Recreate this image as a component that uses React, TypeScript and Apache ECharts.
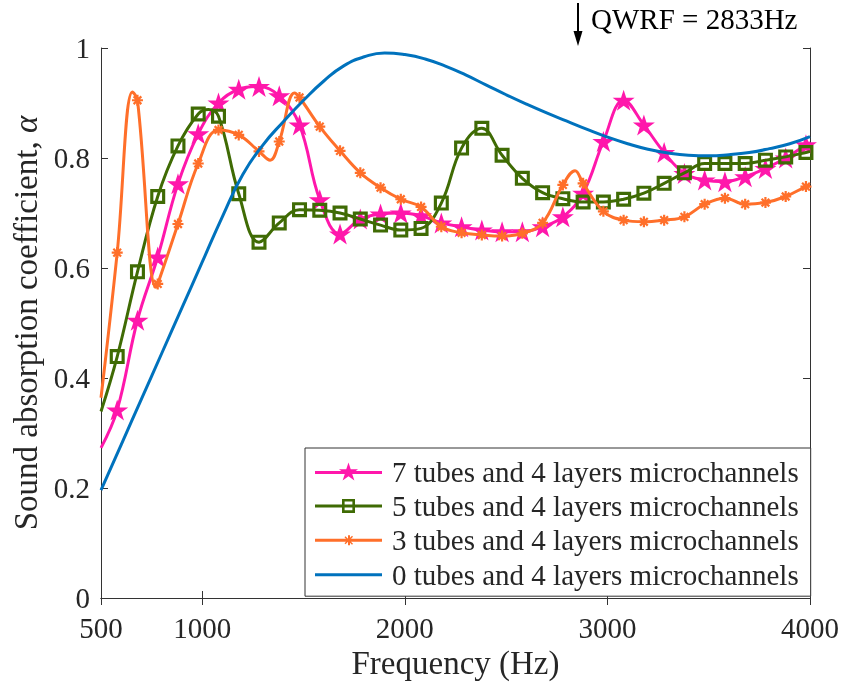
import React, { useEffect, useRef } from 'react';
import * as echarts from 'echarts';

// ---------- data ----------
const xTicks = [500, 1000, 2000, 3000, 4000];
const markerFreqs = [580, 680, 780, 880, 980, 1080, 1180, 1280, 1380, 1480, 1580, 1680, 1780, 1880, 1980, 2080, 2180, 2280, 2380, 2480, 2580, 2680, 2780, 2880, 2980, 3080, 3180, 3280, 3380, 3480, 3580, 3680, 3780, 3880, 3980];

// 7 tubes and 4 layers microchannels
const tubes7Vals = [0.342, 0.505, 0.62, 0.753, 0.844, 0.9, 0.925, 0.93, 0.913, 0.86, 0.724, 0.662, 0.689, 0.698, 0.7, 0.695, 0.682, 0.675, 0.669, 0.666, 0.666, 0.675, 0.693, 0.736, 0.83, 0.905, 0.86, 0.81, 0.772, 0.76, 0.757, 0.766, 0.781, 0.8, 0.824];
const tubes7ExtraFreqs = [500, 4000];
const tubes7ExtraVals = [0.273, 0.828];

// 5 tubes and 4 layers microchannels
const tubes5Vals = [0.439, 0.593, 0.73, 0.822, 0.88, 0.876, 0.735, 0.647, 0.682, 0.706, 0.705, 0.7, 0.689, 0.678, 0.669, 0.672, 0.718, 0.818, 0.854, 0.805, 0.763, 0.737, 0.726, 0.72, 0.72, 0.725, 0.736, 0.754, 0.773, 0.79, 0.79, 0.79, 0.796, 0.802, 0.81];
const tubes5ExtraFreqs = [500, 1030, 4000];
const tubes5ExtraVals = [0.339, 0.888, 0.812];

// 3 tubes and 4 layers microchannels
const tubes3Vals = [0.628, 0.905, 0.571, 0.68, 0.79, 0.851, 0.842, 0.812, 0.83, 0.91, 0.857, 0.813, 0.773, 0.746, 0.725, 0.711, 0.675, 0.664, 0.66, 0.658, 0.663, 0.682, 0.751, 0.754, 0.703, 0.687, 0.684, 0.687, 0.693, 0.716, 0.727, 0.716, 0.719, 0.73, 0.748];
const tubes3ExtraFreqs = [500, 655, 770, 1335, 1455, 2840, 4000];
const tubes3ExtraVals = [0.364, 0.92, 0.565, 0.796, 0.918, 0.777, 0.75];

// 0 tubes and 4 layers microchannels (no markers)
const tubes0Freqs = [500, 600, 700, 800, 900, 1000, 1100, 1200, 1300, 1400, 1500, 1600, 1700, 1800, 1900, 2000, 2100, 2200, 2300, 2400, 2500, 2600, 2700, 2800, 2900, 3000, 3100, 3200, 3300, 3400, 3500, 3600, 3700, 3800, 3900, 4000];
const tubes0Vals = [0.196, 0.279, 0.362, 0.445, 0.528, 0.611, 0.694, 0.77, 0.824, 0.866, 0.905, 0.94, 0.968, 0.984, 0.991, 0.988, 0.98, 0.967, 0.951, 0.933, 0.915, 0.898, 0.882, 0.867, 0.852, 0.838, 0.826, 0.816, 0.809, 0.805, 0.804, 0.806, 0.81, 0.817, 0.826, 0.839];

const seriesNames = [
  '7 tubes and 4 layers microchannels',
  '5 tubes and 4 layers microchannels',
  '3 tubes and 4 layers microchannels',
  '0 tubes and 4 layers microchannels',
];
const qwrf = 'QWRF = 2833Hz';

// ---------- styles ----------
const FONT = "'Liberation Serif', 'Times New Roman', serif";
const PINK = '#ff17ab';
const GREEN = '#3f6b04';
const ORANGE = '#ff6f2a';
const BLUE = '#0072bd';
const AXIS = '#333333';
const TEXT = '#262626';

const STAR =
  'path://M10,0 L12.245,6.91 L19.511,6.91 L13.633,11.18 L15.878,18.09 L10,13.82 L4.122,18.09 L6.367,11.18 L0.489,6.91 L7.755,6.91 Z';
const SQUARE_RING = 'path://M0,0 L10,0 L10,10 L0,10 Z M2.1,2.1 L2.1,7.9 L7.9,7.9 L7.9,2.1 Z';
const ASTER =
  'path://M4,0 L6,0 L6,10 L4,10 Z M0,4 L10,4 L10,6 L0,6 Z M2.21,0.79 L9.21,7.79 L7.79,9.21 L0.79,2.21 Z M9.21,2.21 L2.21,9.21 L0.79,7.79 L7.79,0.79 Z';

// legend icons (line + marker) in a 67-wide box
function starIcon() {
  const cx = 33.5, cy = 10, r = 10, ri = 3.82;
  const pts: string[] = [];
  for (let k = 0; k < 10; k++) {
    const a = (-90 + k * 36) * Math.PI / 180;
    const rr = k % 2 === 0 ? r : ri;
    pts.push(`${(cx + rr * Math.cos(a)).toFixed(3)},${(cy + rr * Math.sin(a)).toFixed(3)}`);
  }
  return `path://M0,8.5 L67,8.5 L67,11.5 L0,11.5 Z M${pts.join(' L')} Z`;
}
const LEG_PINK = starIcon();
const LEG_GREEN = 'path://M0,5.5 L67,5.5 L67,8.5 L0,8.5 Z M27,0 L40,0 L40,14 L27,14 Z M29.6,2.6 L29.6,11.4 L37.4,11.4 L37.4,2.6 Z';
const LEG_ORANGE = 'path://M0,3.5 L67,3.5 L67,6.5 L0,6.5 Z M33,0 L35,0 L35,10 L33,10 Z M29,4 L39,4 L39,6 L29,6 Z M30.5,1 L38,8.5 L37,9.5 L29.5,2 Z M38,1.5 L30.5,9 L29.5,8 L37,0.5 Z';
const LEG_BLUE = 'path://M0,0 L67,0 L67,3 L0,3 Z';

function build(mf: number[], mv: number[], ef: number[], ev: number[]) {
  const pts: { f: number; v: number; m: boolean }[] = [];
  mf.forEach((f, i) => pts.push({ f, v: mv[i], m: true }));
  ef.forEach((f, i) => pts.push({ f, v: ev[i], m: false }));
  pts.sort((a, b) => a.f - b.f);
  return pts.map((p) => (p.m ? { value: [p.f, p.v] } : { value: [p.f, p.v], symbol: 'none' }));
}

export default function App() {
  const ref = useRef<HTMLDivElement>(null);
  useEffect(() => {
    if (!ref.current) return;
    const chart = echarts.init(ref.current, undefined, { renderer: 'svg' });
    const lineSeries = (name: string, color: string, data: any[], symbol: string, size: any, z: number) => ({
      name,
      type: 'line',
      data,
      smooth: 0.4,
      symbol,
      symbolSize: size,
      showSymbol: true,
      lineStyle: { color, width: 3 },
      itemStyle: { color, borderWidth: 0 },
      z,
      emphasis: { disabled: true },
    });
    const tickStyle = { show: true, inside: true, length: 7, lineStyle: { color: AXIS, width: 1 } };
    const plain = (v: number) => String(v);
    chart.setOption({
      animation: false,
      grid: { left: 101, right: 34, top: 48, bottom: 91, containLabel: false },
      xAxis: [
        {
          type: 'value',
          min: 500,
          max: 4000,
          position: 'bottom',
          axisLine: { show: true, lineStyle: { color: AXIS, width: 1 } },
          axisTick: { ...tickStyle, customValues: xTicks },
          axisLabel: { customValues: xTicks, formatter: plain, fontSize: 29, fontFamily: FONT, color: TEXT, margin: 15 },
          splitLine: { show: false },
          name: 'Frequency (Hz)',
          nameLocation: 'middle',
          nameGap: 44,
          nameTextStyle: { fontSize: 33, fontFamily: FONT, color: TEXT },
        },
        {
          type: 'value',
          min: 500,
          max: 4000,
          position: 'top',
          axisLine: { show: true, lineStyle: { color: AXIS, width: 1 } },
          axisTick: { ...tickStyle, customValues: xTicks },
          axisLabel: { show: false },
          splitLine: { show: false },
        },
      ],
      yAxis: [
        {
          type: 'value',
          min: 0,
          max: 1,
          interval: 0.2,
          position: 'left',
          axisLine: { show: true, lineStyle: { color: AXIS, width: 1 } },
          axisTick: tickStyle,
          axisLabel: { formatter: plain, fontSize: 29, fontFamily: FONT, color: TEXT, margin: 11 },
          splitLine: { show: false },
          name: 'Sound absorption coefficient, {a|α}',
          nameLocation: 'middle',
          nameGap: 48,
          nameTextStyle: {
            fontSize: 33,
            fontFamily: FONT,
            color: TEXT,
            rich: { a: { fontSize: 33, fontFamily: FONT, fontStyle: 'italic', color: TEXT } },
          },
        },
        {
          type: 'value',
          min: 0,
          max: 1,
          interval: 0.2,
          position: 'right',
          axisLine: { show: true, lineStyle: { color: AXIS, width: 1 } },
          axisTick: tickStyle,
          axisLabel: { show: false },
          splitLine: { show: false },
        },
      ],
      legend: {
        orient: 'vertical',
        left: 305,
        top: 448,
        padding: [9, 12, 7, 10],
        itemWidth: 67,
        itemHeight: 20,
        itemGap: 5.4,
        itemStyle: { borderWidth: 0 },
        backgroundColor: '#ffffff',
        borderColor: AXIS,
        borderWidth: 1,
        borderRadius: 0,
        textStyle: { fontSize: 29, fontFamily: FONT, color: TEXT, padding: [0, 0, 0, 5] },
        selectedMode: false,
        data: [
          { name: seriesNames[0], icon: LEG_PINK },
          { name: seriesNames[1], icon: LEG_GREEN },
          { name: seriesNames[2], icon: LEG_ORANGE },
          { name: seriesNames[3], icon: LEG_BLUE },
        ],
      },
      series: [
        lineSeries(seriesNames[0], PINK, build(markerFreqs, tubes7Vals, tubes7ExtraFreqs, tubes7ExtraVals), STAR, [22, 21], 2),
        lineSeries(seriesNames[1], GREEN, build(markerFreqs, tubes5Vals, tubes5ExtraFreqs, tubes5ExtraVals), SQUARE_RING, 15, 3),
        lineSeries(seriesNames[2], ORANGE, build(markerFreqs, tubes3Vals, tubes3ExtraFreqs, tubes3ExtraVals), ASTER, 11, 4),
        {
          name: seriesNames[3],
          type: 'line',
          data: tubes0Freqs.map((f, i) => [f, tubes0Vals[i]]),
          smooth: 0.5,
          symbol: 'none',
          lineStyle: { color: BLUE, width: 3 },
          itemStyle: { color: BLUE },
          z: 5,
          emphasis: { disabled: true },
        },
      ],
      graphic: [
        { type: 'line', shape: { x1: 578, y1: 3, x2: 578, y2: 34 }, style: { stroke: '#000', lineWidth: 2 } },
        { type: 'polygon', shape: { points: [[573.5, 31], [582.5, 31], [578, 46]] }, style: { fill: '#000' } },
        {
          type: 'text',
          left: 591,
          top: 4,
          style: { text: qwrf, fontSize: 29, fontFamily: FONT, fill: '#000' },
        },
      ],
    });
    return () => chart.dispose();
  }, []);
  return <div ref={ref} style={{ position: 'fixed', left: 0, top: 0, width: 844, height: 689 }} />;
}
